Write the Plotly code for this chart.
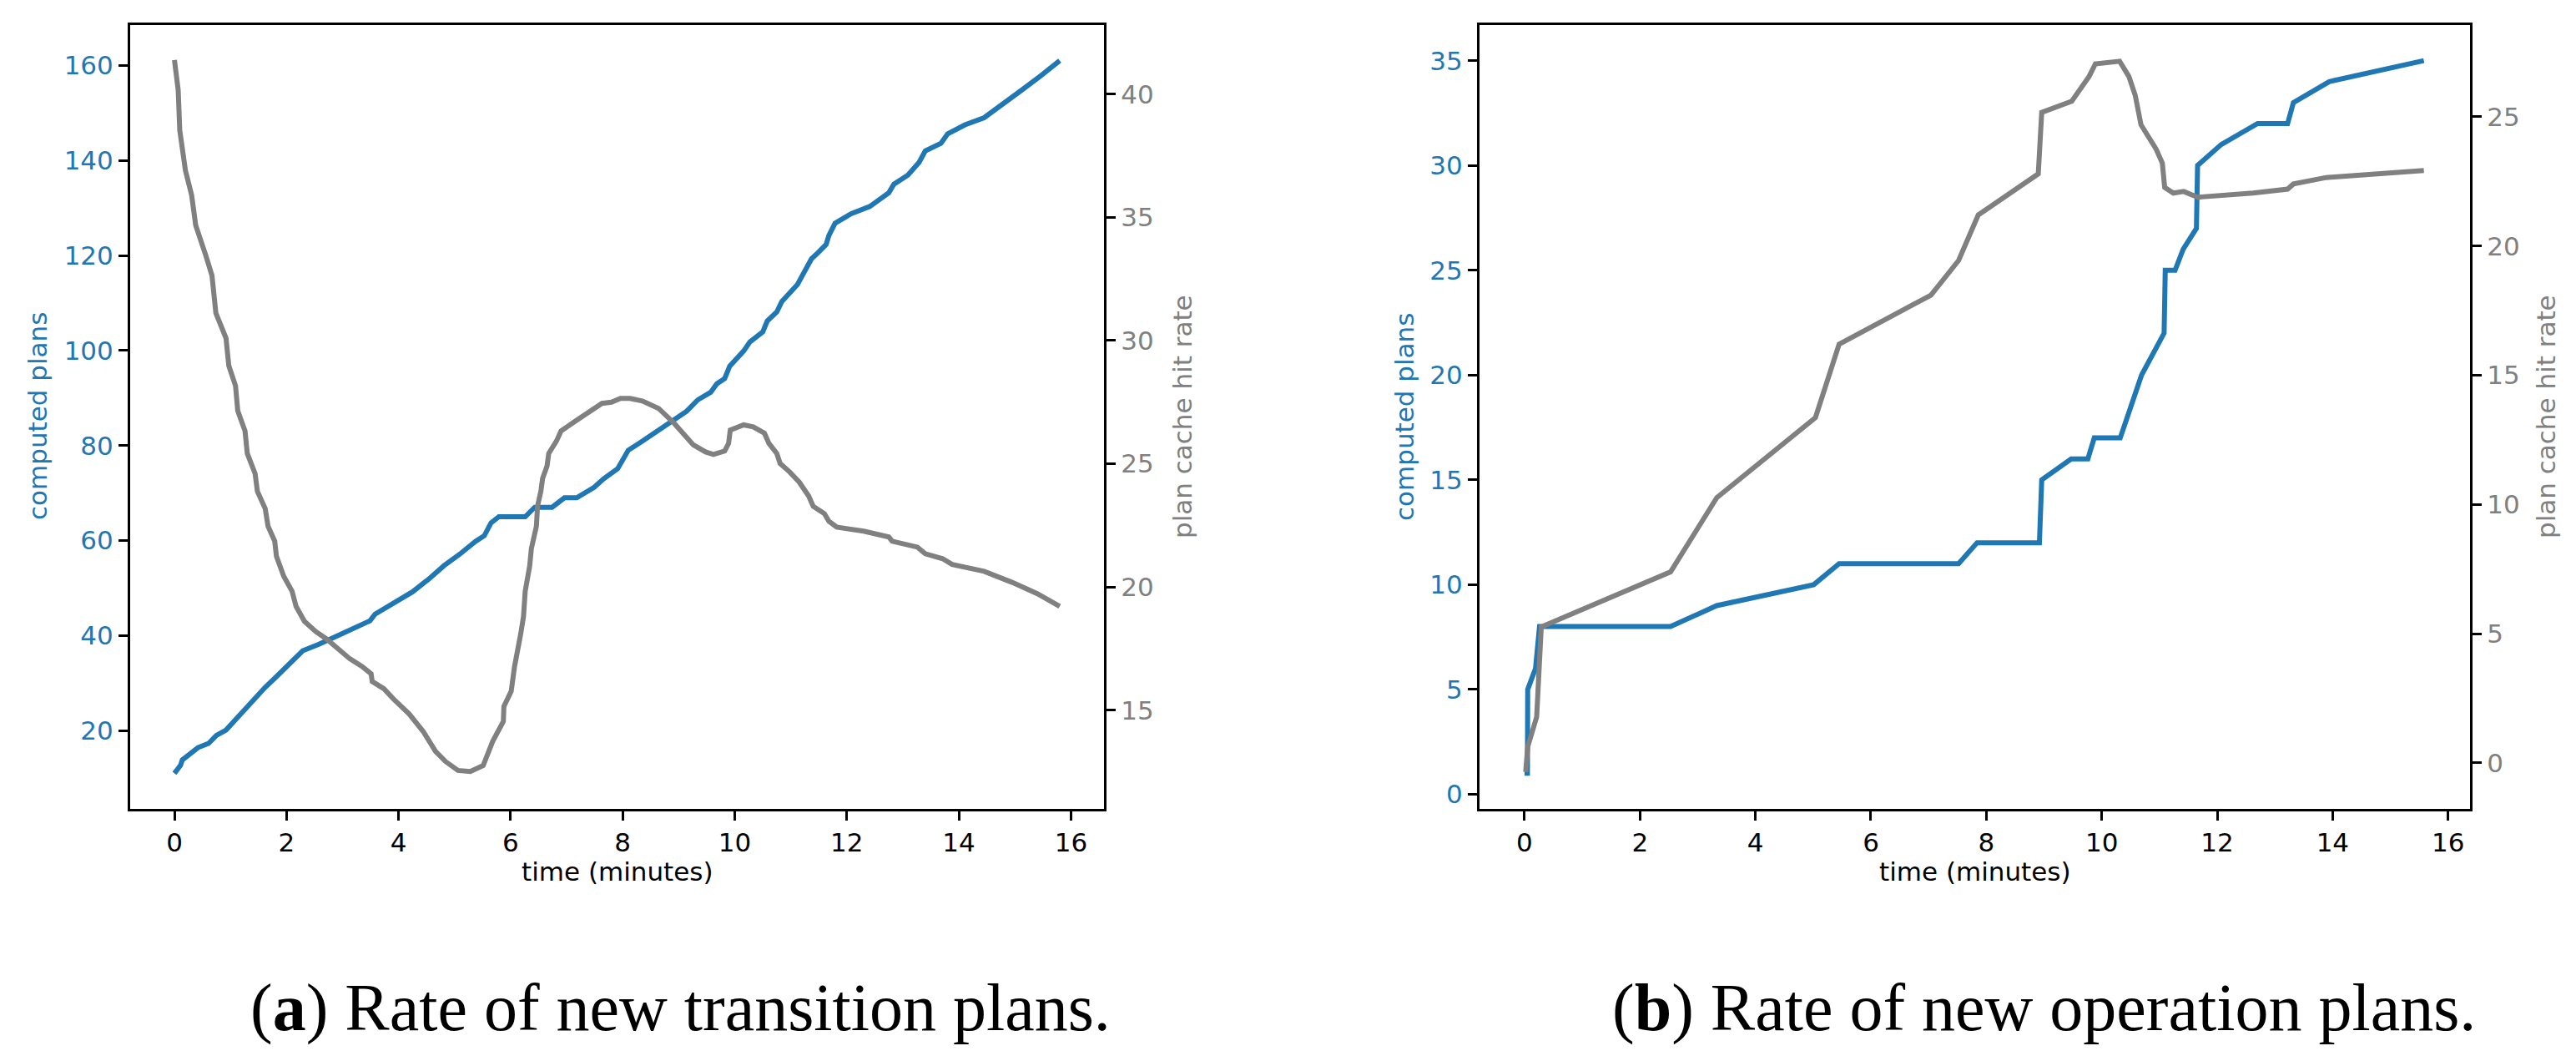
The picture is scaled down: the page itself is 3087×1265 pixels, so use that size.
import plotly.graph_objects as go

# ---------------- data: panel (a) ----------------
t_a_plans = [0, 0.11, 0.14, 0.42, 0.61, 0.75, 0.92, 1.09, 1.29, 1.45, 1.62, 1.79, 1.96, 2.10, 2.29,
             2.57, 2.85, 3.13, 3.49, 3.58, 3.97, 4.25, 4.53, 4.81, 5.09, 5.37, 5.53, 5.65, 5.79, 6.26,
             6.43, 6.74, 6.96, 7.18, 7.49, 7.66, 7.91, 8.10, 8.35, 8.64, 8.92, 9.14, 9.34, 9.57, 9.68,
             9.82, 9.91, 10.16, 10.27, 10.50, 10.58, 10.75, 10.84, 10.98, 11.12, 11.23, 11.37, 11.48,
             11.63, 11.68, 11.79, 12.08, 12.41, 12.75, 12.84, 13.09, 13.29, 13.40, 13.68, 13.80, 14.11,
             14.45, 14.84, 15.12, 15.46, 15.80]
a_plans = [11, 12.7, 13.8, 16.4, 17.3, 19.0, 20.1, 22.3, 24.9, 27.0, 29.1, 31.0, 32.9, 34.4, 36.8,
           38.1, 39.7, 41.3, 43.1, 44.5, 47.1, 49.2, 51.8, 54.7, 57.1, 59.8, 61.0, 63.7, 65.0, 65.0,
           67.0, 67.0, 69.0, 69.0, 71.2, 73.0, 75.1, 79.0, 80.9, 83.2, 85.5, 87.2, 89.6, 91.2, 93.0,
           94.1, 96.7, 99.9, 101.8, 103.9, 106.2, 108.1, 110.3, 112.0, 113.9, 116.3, 119.3, 120.5,
           122.3, 124.2, 126.8, 128.8, 130.3, 133.2, 135.0, 136.9, 139.6, 142.0, 143.6, 145.6, 147.5,
           149.0, 152.2, 154.8, 157.8, 161.0]

t_a_rate = [0, 0.067, 0.095, 0.196, 0.307, 0.38, 0.56, 0.67, 0.74, 0.92, 0.97, 1.09, 1.13, 1.26, 1.30,
            1.44, 1.48, 1.62, 1.67, 1.79, 1.82, 1.95, 2.10, 2.17, 2.32, 2.52, 2.71, 2.91, 3.13, 3.35,
            3.51, 3.53, 3.74, 3.91, 4.19, 4.44, 4.66, 4.84, 5.06, 5.28, 5.51, 5.68, 5.87, 5.88, 6.01,
            6.07, 6.15, 6.18, 6.23, 6.26, 6.34, 6.37, 6.46, 6.48, 6.54, 6.57, 6.65, 6.68, 6.82, 6.90,
            7.16, 7.43, 7.63, 7.80, 7.96, 8.13, 8.35, 8.64, 8.92, 9.26, 9.48, 9.62, 9.82, 9.89, 9.92,
            10.16, 10.33, 10.53, 10.61, 10.75, 10.81, 10.98, 11.15, 11.32, 11.40, 11.60, 11.68, 11.82,
            12.30, 12.75, 12.81, 13.26, 13.40, 13.71, 13.88, 14.45, 14.95, 15.40, 15.80]
a_rate = [41.38, 40.16, 38.53, 36.9, 35.9, 34.67, 33.45, 32.64, 31.11, 30.1, 28.98, 28.17, 27.15, 26.33,
          25.42, 24.6, 23.89, 23.18, 22.47, 21.86, 21.25, 20.44, 19.83, 19.22, 18.61, 18.2, 17.9, 17.49,
          17.09, 16.78, 16.48, 16.17, 15.87, 15.46, 14.85, 14.14, 13.33, 12.92, 12.56, 12.52, 12.76,
          13.74, 14.55, 15.16, 15.77, 16.78, 17.6, 18.1, 18.81, 19.83, 20.85, 21.56, 22.47, 23.28,
          23.89, 24.4, 24.91, 25.42, 25.93, 26.33, 26.74, 27.15, 27.45, 27.5, 27.65, 27.65, 27.55,
          27.25, 26.64, 25.77, 25.48, 25.38, 25.52, 25.83, 26.37, 26.58, 26.5, 26.24, 25.83, 25.42,
          25.01, 24.67, 24.26, 23.69, 23.28, 22.98, 22.67, 22.43, 22.27, 22.03, 21.86, 21.62, 21.35,
          21.15, 20.92, 20.64, 20.19, 19.73, 19.22]

# ---------------- data: panel (b) ----------------
t_b_plans = [0, 0.05, 0.055, 0.19, 0.26, 2.53, 3.33, 5.01, 5.45, 7.52, 7.84, 8.92, 8.96, 9.47, 9.76,
             9.87, 10.32, 10.58, 10.69, 11.08, 11.10, 11.27, 11.41, 11.64, 11.66, 12.07, 12.70, 13.22,
             13.32, 13.94, 15.58]
b_plans = [1, 1, 5, 6, 8, 8, 9, 10, 11, 11, 12, 12, 15, 16, 16,
           17, 17, 19, 20, 22, 25, 25, 26, 27, 30, 31, 32, 32,
           33, 34, 35]

t_b_rate = [0.02, 0.055, 0.21, 0.29, 2.53, 3.33, 5.04, 5.45, 7.04, 7.52, 7.86, 8.90, 8.96, 9.48, 9.78,
            9.89, 10.31, 10.47, 10.58, 10.68, 10.94, 11.05, 11.09, 11.24, 11.42, 11.67, 11.73, 12.62,
            13.22, 13.32, 13.89, 15.58]
b_rate = [-0.35, 0.62, 1.78, 5.26, 7.39, 10.26, 13.36, 16.2, 18.1, 19.44, 21.2, 22.79, 25.17, 25.6,
          26.56, 27.05, 27.15, 26.56, 25.83, 24.69, 23.76, 23.2, 22.27, 22.05, 22.11, 21.88, 21.9,
          22.05, 22.2, 22.4, 22.65, 22.92]

x_ticks = [0, 2, 4, 6, 8, 10, 12, 14, 16]
captions = ["(<b>a</b>) Rate of new transition plans.", "(<b>b</b>) Rate of new operation plans."]
x_title = "time (minutes)"
y1_title = "computed plans"
y2_title = "plan cache hit rate"

BLUE = "#1f77b4"
GREY = "#808080"
W, H = 3087, 1265
FONT = "DejaVu Sans"
FS = 31
LW = 6

def px_x(p):
    return p / W

def px_y(p):
    return 1 - p / H

fig = go.Figure()
fig.add_trace(go.Scatter(x=t_a_plans, y=a_plans, mode="lines", line=dict(color=BLUE, width=LW),
                         xaxis="x", yaxis="y", showlegend=False))
fig.add_trace(go.Scatter(x=t_a_rate, y=a_rate, mode="lines", line=dict(color=GREY, width=LW),
                         xaxis="x", yaxis="y2", showlegend=False))
fig.add_trace(go.Scatter(x=t_b_plans, y=b_plans, mode="lines", line=dict(color=BLUE, width=LW),
                         xaxis="x2", yaxis="y3", showlegend=False))
fig.add_trace(go.Scatter(x=t_b_rate, y=b_rate, mode="lines", line=dict(color=GREY, width=LW),
                         xaxis="x2", yaxis="y4", showlegend=False))

ydom = [px_y(961), px_y(22)]
xdom_a = [px_x(148), px_x(1315)]
xdom_b = [px_x(1765), px_x(2952)]

common_axis = dict(showline=True, linecolor="black", linewidth=3, ticks="outside", ticklen=11,
                   tickwidth=3, tickcolor="black", showgrid=False, zeroline=False)

def xaxis(dom, rng, anchor):
    return dict(domain=dom, range=rng, anchor=anchor, tickvals=x_ticks, mirror=True,
                tickfont=dict(family=FONT, size=FS, color="black"), **common_axis)

def yaxis(rng, dtick, color, anchor, side="left", overlaying=None):
    d = dict(domain=ydom, range=rng, anchor=anchor, dtick=dtick, side=side,
             tickfont=dict(family=FONT, size=FS, color=color), **common_axis)
    if overlaying:
        d["overlaying"] = overlaying
    else:
        d["mirror"] = True
    return d

fig.update_layout(
    width=W, height=H, margin=dict(l=0, r=0, t=0, b=0),
    paper_bgcolor="white", plot_bgcolor="white",
    xaxis=xaxis(xdom_a, [-0.79, 16.59], "y"),
    yaxis=yaxis([3.5, 168.5], 20, BLUE, "x"),
    yaxis2=yaxis([11.0, 42.8], 5, GREY, "x", side="right", overlaying="y"),
    xaxis2=xaxis(xdom_b, [-0.78, 16.38], "y3"),
    yaxis3=yaxis([-0.7, 36.7], 5, BLUE, "x2"),
    yaxis4=yaxis([-1.78, 28.55], 5, GREY, "x2", side="right", overlaying="y3"),
)

ann = []
# axis titles
for xc in [(148 + 1315) / 2, (1765 + 2952) / 2]:
    ann.append(dict(x=px_x(xc), y=px_y(1036), xref="paper", yref="paper", text=x_title,
                    showarrow=False, xanchor="center", yanchor="middle",
                    font=dict(family=FONT, size=FS, color="black")))
for xc in [37, 1675]:
    ann.append(dict(x=px_x(xc), y=px_y(491), xref="paper", yref="paper", text=y1_title,
                    showarrow=False, textangle=-90, xanchor="center", yanchor="middle",
                    font=dict(family=FONT, size=FS, color=BLUE)))
for xc in [1409, 3043]:
    ann.append(dict(x=px_x(xc), y=px_y(491), xref="paper", yref="paper", text=y2_title,
                    showarrow=False, textangle=-90, xanchor="center", yanchor="middle",
                    font=dict(family=FONT, size=FS, color=GREY)))
# captions
for xc, txt in zip([807, 2441], captions):
    ann.append(dict(x=px_x(xc), y=px_y(1199), xref="paper", yref="paper", text=txt,
                    showarrow=False, xanchor="center", yanchor="middle",
                    font=dict(family="Liberation Serif", size=80, color="black")))
fig.update_layout(annotations=ann)

fig.write_html("out.html")
